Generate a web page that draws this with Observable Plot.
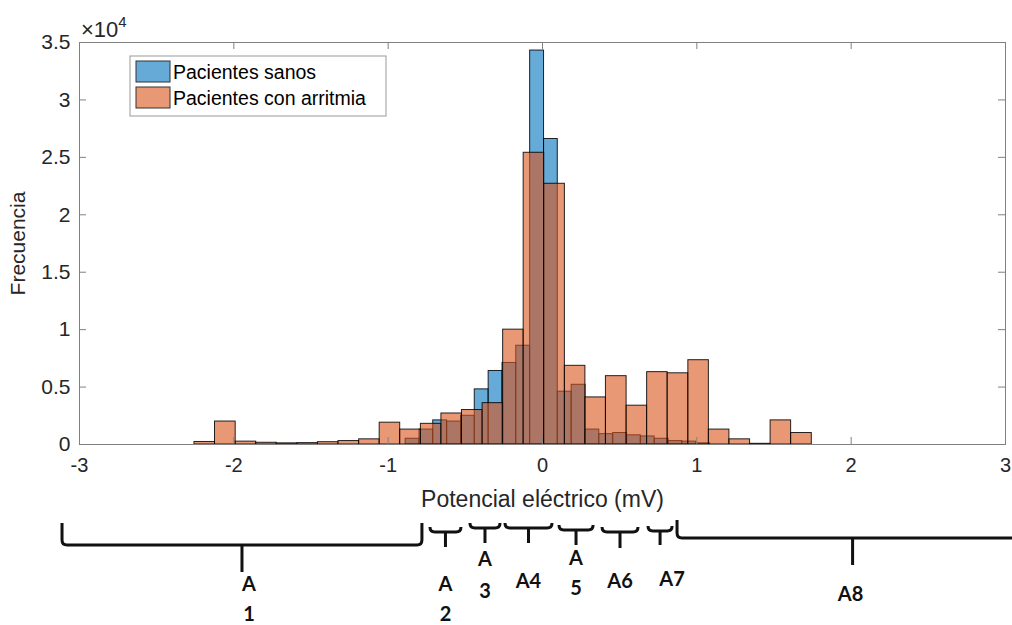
<!DOCTYPE html>
<html><head><meta charset="utf-8">
<script src="https://cdn.jsdelivr.net/npm/d3@7"></script>
<script src="https://cdn.jsdelivr.net/npm/@observablehq/plot@0.6"></script>
<style>
body{margin:0;background:#fff;}
#chart{width:1012px;height:625px;position:relative;overflow:hidden;}
#chart svg{display:block;}
</style></head><body><div id="chart"></div>
<script>
// ---- data ----
const seriesNames = ["Pacientes sanos", "Pacientes con arritmia"];

// healthy patients: bin edges (mV) and counts
const sanosEdges = [-0.887, -0.797, -0.708, -0.618, -0.528, -0.439, -0.349, -0.259, -0.170, -0.080,
  0.010, 0.099, 0.189, 0.279, 0.368, 0.458, 0.548, 0.637, 0.727, 0.817, 0.906, 0.996, 1.086];
const sanosCounts = [500, 1300, 2100, 2000, 2500, 4800, 6400, 7100, 8600, 34300,
  26600, 4600, 5200, 1300, 900, 1000, 800, 700, 500, 300, 250, 100];

// arrhythmia patients: bin edges (mV) and counts
const arritmiaEdges = [-2.255, -2.122, -1.988, -1.855, -1.722, -1.588, -1.455, -1.322, -1.188, -1.055,
  -0.922, -0.788, -0.655, -0.522, -0.388, -0.255, -0.122, 0.011, 0.145, 0.278,
  0.411, 0.545, 0.678, 0.811, 0.945, 1.078, 1.211, 1.345, 1.478, 1.611, 1.745];
const arritmiaCounts = [220, 2000, 250, 150, 100, 120, 200, 300, 450, 1900,
  1300, 1800, 2700, 3000, 3600, 10000, 25400, 22700, 6850, 4100,
  5950, 3380, 6300, 6200, 7340, 1300, 450, 60, 2100, 1000];

const xTicks = [-3, -2, -1, 0, 1, 2, 3];
const yTicks = [0, 5000, 10000, 15000, 20000, 25000, 30000, 35000];
const yTickLabels = ["0", "0.5", "1", "1.5", "2", "2.5", "3", "3.5"];

// annotated regions below the axis (mV)
const regionStart = [-3.11, -0.726, -0.467, -0.240, 0.110, 0.389, 0.687, 0.875];
const regionEnd   = [-0.778, -0.525, -0.272, 0.065, 0.331, 0.622, 0.843, 3.15];
const regionLabelLines = [["A","1"],["A","2"],["A","3"],["A4"],["A","5"],["A6"],["A7"],["A8"]];

// ---- layout / style (not data) ----
const W = 1012, H = 515, mT = 42, mB = 71, mL = 79, mR = 7;
const innerH = H - mT - mB, innerW = W - mL - mR;
const blue = "#0072BD", orange = "#D95319";
const axisGray = "#808080", textColor = "#262626";
const font = "'Liberation Sans', Arial, sans-serif";
const braceBase  = [30, 17, 13, 13, 15, 17, 16, 23];
const braceCurl  = [22, 5, 5, 5, 5, 5, 5, 18];
const braceTip   = [57, 32, 28, 28, 30, 33, 30, 50];
const labelY     = [[68,98],[68,98],[43,75],[65],[42,72],[65],[63],[78]];
const labelDx    = [7, 0, 0, 0, 0, 0, 12, -2];

function toBins(edges, counts, name) {
  return counts.map((c, i) => ({x1: edges[i], x2: edges[i + 1], count: c, serie: name}));
}
const sanos = toBins(sanosEdges, sanosCounts, seriesNames[0]);
const arritmia = toBins(arritmiaEdges, arritmiaCounts, seriesNames[1]);

const plot = Plot.plot({
  width: W, height: H,
  marginTop: mT, marginBottom: mB, marginLeft: mL, marginRight: mR,
  style: {fontFamily: font, fontSize: "20px", color: textColor, background: "#fff"},
  x: {domain: [-3, 3]},
  y: {domain: [0, 35000]},
  marks: [
    Plot.rect(sanos, {x1: "x1", x2: "x2", y1: d => 0, y2: "count", fill: blue, fillOpacity: 0.6, stroke: "#000", strokeOpacity: 0.85, strokeWidth: 1}),
    Plot.rect(arritmia, {x1: "x1", x2: "x2", y1: d => 0, y2: "count", fill: orange, fillOpacity: 0.6, stroke: "#000", strokeOpacity: 0.85, strokeWidth: 1}),
    Plot.frame({stroke: axisGray}),
    Plot.tickX(xTicks, {x: d => d, insetTop: innerH - 7, stroke: axisGray}),
    Plot.tickX(xTicks, {x: d => d, insetBottom: innerH - 7, stroke: axisGray}),
    Plot.tickY(yTicks, {y: d => d, insetRight: innerW - 7, stroke: axisGray}),
    Plot.tickY(yTicks, {y: d => d, insetLeft: innerW - 7, stroke: axisGray}),
    Plot.axisX({ticks: xTicks, tickSize: 0, tickPadding: 13, tickFormat: d => String(d), fontSize: 20, label: null}),
    Plot.axisX({ticks: [], tickSize: 0, label: "Potencial eléctrico (mV)", labelAnchor: "center", labelArrow: "none", labelOffset: 62, fontSize: 23}),
    Plot.axisY({ticks: yTicks, tickSize: 0, tickPadding: 9, tickFormat: d => yTickLabels[yTicks.indexOf(d)],
      label: "Frecuencia", labelAnchor: "center", labelArrow: "none", labelOffset: 69, fontSize: 21})
  ]
});

const chart = document.getElementById("chart");
chart.appendChild(plot);

// ---- exponent and legend inside the plot svg ----
const svg = d3.select(plot);
const expo = svg.append("text").attr("x", 81).attr("y", 37).attr("text-anchor", "start")
  .attr("fill", textColor).style("font-size", "22px").style("font-family", font);
expo.append("tspan").text("×10");
expo.append("tspan").attr("dy", -10).style("font-size", "15px").text("4");

const lg = svg.append("g").style("font-family", font).attr("text-anchor", "start");
lg.append("rect").attr("x", 130).attr("y", 56).attr("width", 256).attr("height", 60)
  .attr("fill", "#fff").attr("stroke", "#999").attr("stroke-width", 1);
[blue, orange].forEach((c, i) => {
  lg.append("rect").attr("x", 136).attr("y", 61 + i * 26).attr("width", 34).attr("height", 21)
    .attr("fill", c).attr("fill-opacity", 0.6).attr("stroke", "#333").attr("stroke-width", 1);
  lg.append("text").attr("x", 173).attr("y", 79 + i * 26).attr("fill", "#000").attr("text-anchor", "start")
    .style("font-size", "19.5px").text(seriesNames[i]);
});

// ---- region braces below the chart ----
const xs = plot.scale("x");
const ann = d3.select(chart).append("svg").attr("width", W).attr("height", 625 - H)
  .style("display", "block").style("font-family", "Lato, 'Open Sans', sans-serif");
regionStart.forEach((s, i) => {
  const x1 = xs.apply(s), x2 = xs.apply(regionEnd[i]), xm = (x1 + x2) / 2;
  const b = braceBase[i], t = b - braceCurl[i], r = Math.min(5, braceCurl[i]);
  const p = `M${x1},${t} L${x1},${b - r} Q${x1},${b} ${x1 + r},${b} L${x2 - r},${b} Q${x2},${b} ${x2},${b - r} L${x2},${t} M${xm},${b} L${xm},${braceTip[i]}`;
  ann.append("path").attr("d", p).attr("fill", "none").attr("stroke", "#111").attr("stroke-width", 3)
    .attr("stroke-linejoin", "round");
  regionLabelLines[i].forEach((line, j) => {
    ann.append("text").attr("x", xm + labelDx[i]).attr("y", labelY[i][j])
      .attr("text-anchor", "middle").attr("dominant-baseline", "central")
      .style("font-size", "20px").style("font-weight", "700").attr("fill", "#111").text(line);
  });
});
</script></body></html>
